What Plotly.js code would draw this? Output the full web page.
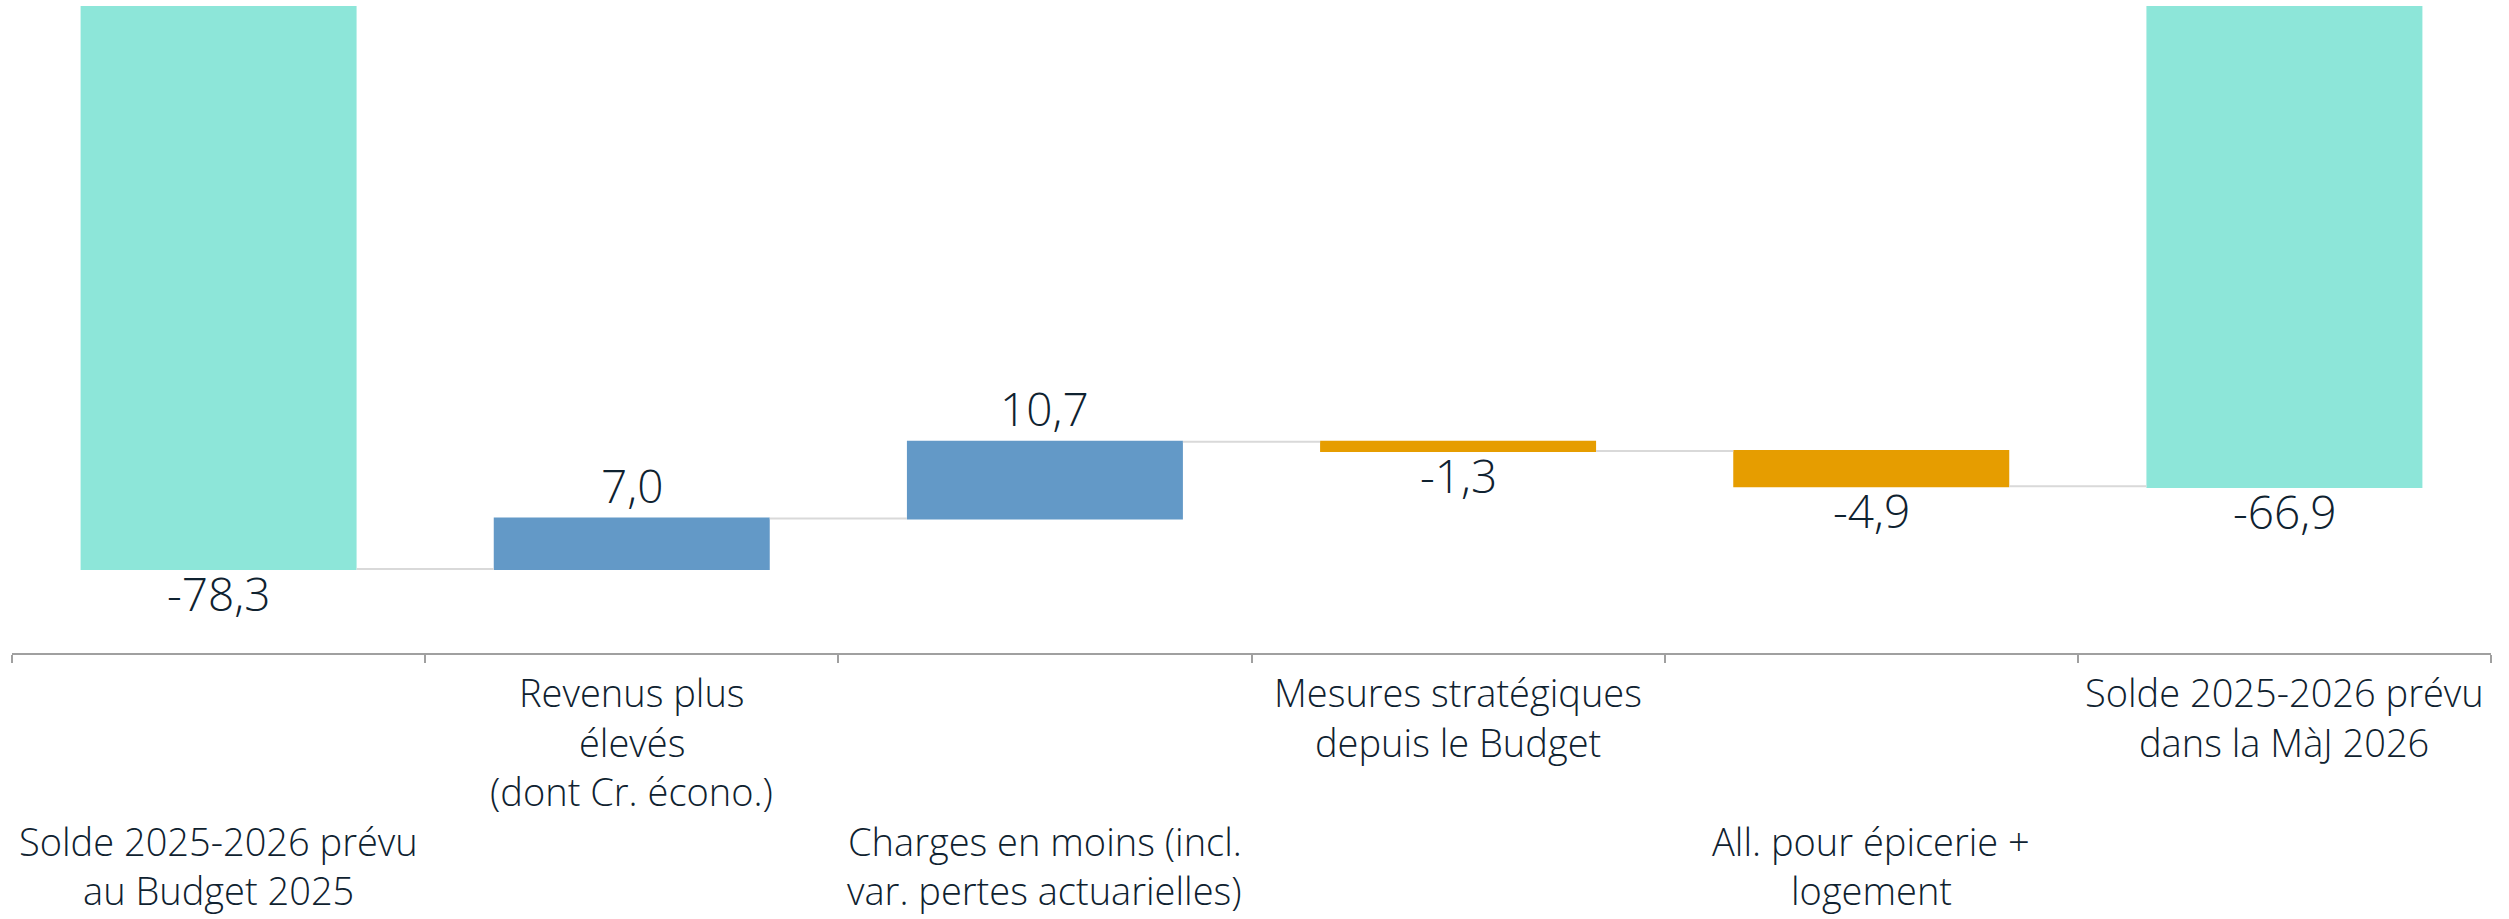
<!DOCTYPE html>
<html>
<head>
<meta charset="utf-8">
<script src="https://cdn.plot.ly/plotly-3.0.1.min.js"></script>
<style>
html, body { margin: 0; padding: 0; background: #ffffff; }
#chart { width: 2509px; height: 919px; }
</style>
</head>
<body>
<div id="chart"></div>
<script>
// ---- Data ----
var categories = ["c0", "c1", "c2", "c3", "c4", "c5"];
var categoryLabels = [
  ["Solde 2025-2026 prévu", "au Budget 2025"],
  ["Revenus plus", "élevés", "(dont Cr. écono.)"],
  ["Charges en moins (incl.", "var. pertes actuarielles)"],
  ["Mesures stratégiques", "depuis le Budget"],
  ["All. pour épicerie +", "logement"],
  ["Solde 2025-2026 prévu", "dans la MàJ 2026"]
];
var measures = ["absolute", "relative", "relative", "relative", "relative", "absolute"];
var values = [-78.3, 7.0, 10.7, -1.3, -4.9, -66.9];

// ---- Styling ----
var textColor = "#0f2230";
var fontFamily = "'Open Sans', Lato, sans-serif";
var colTotal = "#8de6d9";
var colUp = "#6399c7";
var colDown = "#e69d00";

var trace = {
  type: "waterfall",
  x: categories,
  y: values,
  measure: measures,
  textinfo: "none",
  totals: { marker: { color: colTotal } },
  increasing: { marker: { color: colUp } },
  decreasing: { marker: { color: colDown } },
  connector: { mode: "between", line: { color: "#d9d9d9", width: 2 } },
  width: 0.668,
  hoverinfo: "none"
};

var annotations = [];

// data labels at the end of each bar (via the y axis scale)
var running = 0;
values.forEach(function (v, i) {
  running = (measures[i] === "absolute") ? v : running + v;
  var above = (measures[i] === "relative" && v > 0);
  annotations.push({
    x: categories[i], xref: "x",
    y: running, yref: "y",
    xanchor: "center", yanchor: "middle",
    yshift: above ? 33.5 : -24,
    text: v.toFixed(1).replace(".", ","),
    showarrow: false,
    font: { family: fontFamily, size: 46, color: textColor, weight: 300 }
  });
});

// category labels (staggered rows)
var lineStep = 49.5;
var firstOffset = 39;
categoryLabels.forEach(function (lines, i) {
  var rowStart = (i % 2 === 0) ? 3 : 0;
  lines.forEach(function (ln, k) {
    annotations.push({
      x: categories[i], xref: "x",
      y: 0, yref: "paper",
      yanchor: "middle", xanchor: "center",
      yshift: -(firstOffset + lineStep * (rowStart + k)),
      text: ln, showarrow: false,
      font: { family: fontFamily, size: 38, color: textColor, weight: 300 }
    });
  });
});

var layout = {
  width: 2509,
  height: 919,
  margin: { l: 12, r: 18, t: 6, b: 265.5 },
  paper_bgcolor: "#ffffff",
  plot_bgcolor: "#ffffff",
  showlegend: false,
  xaxis: {
    type: "category",
    showticklabels: false,
    ticks: "outside",
    tickson: "boundaries",
    ticklen: 8,
    tickwidth: 2,
    tickcolor: "#a0a0a0",
    showline: true,
    linecolor: "#a0a0a0",
    linewidth: 2,
    showgrid: false,
    zeroline: false,
    fixedrange: true
  },
  yaxis: {
    range: [-90, 0],
    visible: false,
    showgrid: false,
    zeroline: false,
    fixedrange: true
  },
  annotations: annotations
};

Plotly.newPlot("chart", [trace], layout, { displayModeBar: false, staticPlot: true });
</script>
</body>
</html>
